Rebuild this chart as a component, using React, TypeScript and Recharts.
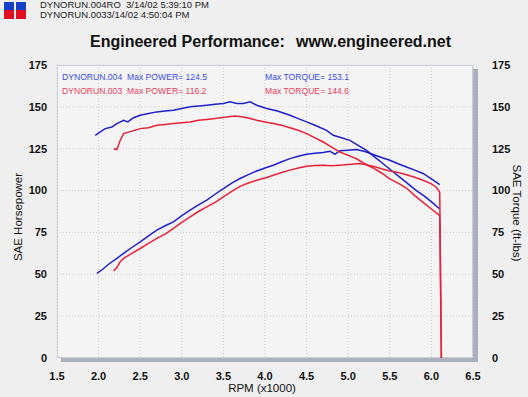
import React from 'react';
import { LineChart, Line, XAxis, YAxis, CartesianGrid } from 'recharts';

const rpmTicks = [1.5, 2.0, 2.5, 3.0, 3.5, 4.0, 4.5, 5.0, 5.5, 6.0, 6.5];
const valueTicks = [0, 25, 50, 75, 100, 125, 150, 175];

// [rpm x1000, value]
const run004Torque = [
  [1.96, 133], [2.02, 135], [2.08, 137], [2.16, 138], [2.22, 140], [2.3, 142], [2.35, 141],
  [2.42, 143.5], [2.5, 145], [2.6, 146], [2.7, 147], [2.8, 147.5], [2.9, 148], [3.0, 149],
  [3.1, 150], [3.2, 150.5], [3.3, 151], [3.4, 151.5], [3.5, 152], [3.58, 153], [3.66, 152],
  [3.74, 152], [3.82, 153], [3.9, 151], [4.02, 149], [4.15, 147.5], [4.3, 145], [4.4, 143],
  [4.5, 141], [4.6, 139], [4.74, 136], [4.82, 133], [4.92, 131.5], [5.02, 130], [5.12, 127],
  [5.22, 124], [5.32, 120], [5.42, 116], [5.52, 112], [5.62, 108], [5.72, 104], [5.82, 100],
  [5.92, 96.5], [6.02, 92.5], [6.1, 89],
];

const run004Power = [
  [1.98, 50.5], [2.05, 53], [2.12, 56], [2.22, 59.5], [2.3, 62.5], [2.4, 66], [2.5, 69.4],
  [2.6, 73], [2.7, 76.4], [2.8, 79], [2.9, 81.3], [3.0, 85], [3.1, 88.3], [3.2, 91.5],
  [3.3, 94.3], [3.4, 97.8], [3.5, 101.2], [3.6, 104.5], [3.7, 107.2], [3.8, 109.5],
  [3.9, 111.7], [4.0, 113.5], [4.1, 115.1], [4.2, 117.2], [4.3, 119.1], [4.4, 120.5],
  [4.5, 121.7], [4.6, 122.3], [4.7, 122.8], [4.78, 123.5], [4.84, 121.7], [4.9, 123.8],
  [5.0, 124.1], [5.1, 124.5], [5.2, 123.3], [5.3, 121.5], [5.4, 119.8], [5.5, 118.1],
  [5.6, 116], [5.7, 114.1], [5.8, 112.2], [5.9, 110.2], [6.0, 107], [6.1, 103.5],
];

const run003Torque = [
  [2.18, 125], [2.22, 124.5], [2.26, 130], [2.3, 134], [2.4, 135.5], [2.5, 137], [2.6, 137.5],
  [2.7, 139], [2.8, 139.5], [2.9, 140], [3.0, 140.5], [3.1, 141], [3.2, 142], [3.3, 142.5],
  [3.4, 143], [3.54, 144], [3.64, 144.6], [3.74, 144], [3.82, 143], [3.9, 142], [4.0, 141],
  [4.1, 140], [4.2, 139], [4.3, 137.5], [4.4, 136], [4.5, 134], [4.6, 131.5], [4.7, 129],
  [4.8, 126], [4.9, 123], [5.0, 121], [5.1, 119], [5.2, 116], [5.3, 113.5], [5.4, 110.5],
  [5.5, 107], [5.6, 104.5], [5.7, 101.5], [5.8, 97], [5.9, 93], [6.0, 89], [6.1, 85], [6.12, 0],
];

const run003Power = [
  [2.18, 52], [2.22, 54], [2.26, 57.5], [2.3, 59.5], [2.4, 62.5], [2.5, 65.4], [2.6, 68.5],
  [2.7, 71.4], [2.8, 74], [2.9, 77.4], [3.0, 81], [3.1, 84.3], [3.2, 87.5], [3.3, 90.3],
  [3.4, 93], [3.5, 96.2], [3.6, 99.5], [3.7, 102.5], [3.8, 104.5], [3.9, 106.2], [4.0, 107.5],
  [4.1, 109.2], [4.2, 110.8], [4.3, 112.2], [4.4, 113.5], [4.5, 114.5], [4.6, 115],
  [4.7, 115.1], [4.8, 114.8], [4.9, 115.1], [5.0, 115.5], [5.14, 116.2], [5.2, 115.5],
  [5.3, 114.5], [5.4, 113], [5.5, 111.7], [5.6, 110.8], [5.7, 109.5], [5.8, 108], [5.9, 106.2],
  [6.0, 104], [6.06, 102], [6.1, 99], [6.12, 0],
];

const toPoints = (pairs: number[][]) => pairs.map(([rpm, v]) => ({ rpm, v }));

const BLUE = '#1f1fcc';
const RED = '#e8203a';
const FONT = '"Liberation Sans", Arial, sans-serif';

const tickStyle = { fill: '#111', fontSize: 11, fontWeight: 700, fontFamily: FONT };

const abs = (s: React.CSSProperties): React.CSSProperties => ({ position: 'absolute', ...s });

const legendText = (left: number, top: number, color: string, text: string) => (
  <div style={abs({ left, top, fontSize: 8.6, lineHeight: '10px', color, whiteSpace: 'pre' })}>{text}</div>
);

const App: React.FC = () => {
  return (
    <div style={abs({ left: 0, top: 0, width: 528, height: 397, background: '#efefef', fontFamily: FONT, overflow: 'hidden' })}>
      {/* plot frame + drop shadow */}
      <div style={abs({ left: 61, top: 357, width: 417, height: 5, background: '#a9afbb' })} />
      <div style={abs({ left: 473, top: 69, width: 5, height: 293, background: '#a9afbb' })} />
      <div style={abs({ left: 57, top: 65, width: 416, height: 293, background: '#f4f4f4', boxSizing: 'border-box', border: '1px solid #c9d0dc' })} />

      <div style={abs({ left: 0, top: 0 })}>
        <LineChart width={528} height={397} margin={{ top: 65, right: 5, bottom: 14, left: 7 }}>
          <CartesianGrid yAxisId="hp" stroke="#cfcfcf" strokeDasharray="1 2" />
          <XAxis
            dataKey="rpm"
            type="number"
            domain={[1.5, 6.5]}
            ticks={rpmTicks}
            tickFormatter={(v: number) => v.toFixed(1)}
            tick={tickStyle}
            axisLine={false}
            tickLine={false}
            tickMargin={8}
            height={25}
            allowDataOverflow
          />
          <YAxis
            yAxisId="hp"
            domain={[0, 175]}
            ticks={valueTicks}
            tick={tickStyle}
            axisLine={false}
            tickLine={false}
            tickMargin={4}
            width={50}
          />
          <YAxis
            yAxisId="tq"
            orientation="right"
            domain={[0, 175]}
            ticks={valueTicks}
            tick={{ ...tickStyle, textAnchor: 'start' }}
            axisLine={false}
            tickLine={false}
            tickMargin={13}
            width={50}
          />
          <Line yAxisId="tq" data={toPoints(run004Torque)} dataKey="v" stroke={BLUE} strokeWidth={1.5} dot={false} isAnimationActive={false} />
          <Line yAxisId="hp" data={toPoints(run004Power)} dataKey="v" stroke={BLUE} strokeWidth={1.5} dot={false} isAnimationActive={false} />
          <Line yAxisId="tq" data={toPoints(run003Torque)} dataKey="v" stroke={RED} strokeWidth={1.5} dot={false} isAnimationActive={false} />
          <Line yAxisId="hp" data={toPoints(run003Power)} dataKey="v" stroke={RED} strokeWidth={1.5} dot={false} isAnimationActive={false} />
        </LineChart>
      </div>

      {/* header */}
      <div style={abs({ left: 4, top: 2, width: 10, height: 8, background: '#1540c8' })} />
      <div style={abs({ left: 16, top: 2, width: 10, height: 8, background: '#1540c8' })} />
      <div style={abs({ left: 4, top: 10, width: 10, height: 9, background: '#e01020' })} />
      <div style={abs({ left: 16, top: 10, width: 10, height: 9, background: '#e01020' })} />
      <div style={abs({ left: 40, top: 0, fontSize: 9.5, lineHeight: '9.5px', color: '#222', whiteSpace: 'pre' })}>
        {'DYNORUN.004RO  3/14/02 5:39:10 PM\nDYNORUN.0033/14/02 4:50:04 PM'}
      </div>

      <div style={abs({ left: 90, top: 33, fontSize: 16, fontWeight: 700, color: '#111', whiteSpace: 'pre' })}>Engineered Performance:</div>
      <div style={abs({ left: 296, top: 33, fontSize: 16, fontWeight: 700, color: '#111', whiteSpace: 'pre' })}>www.engineered.net</div>

      {/* legend */}
      {legendText(62, 72, '#3a4ee0', 'DYNORUN.004')}
      {legendText(127, 72, '#3a4ee0', 'Max POWER= 124.5')}
      {legendText(265, 72, '#3a4ee0', 'Max TORQUE= 153.1')}
      {legendText(62, 86, '#e8405a', 'DYNORUN.003')}
      {legendText(127, 86, '#e8405a', 'Max POWER= 116.2')}
      {legendText(265, 86, '#e8405a', 'Max TORQUE= 144.6')}

      {/* axis titles */}
      <div style={abs({ left: 262, top: 388, transform: 'translate(-50%, -50%)', fontSize: 11.5, color: '#111', whiteSpace: 'pre' })}>RPM (x1000)</div>
      <div style={abs({ left: 18, top: 217, transform: 'translate(-50%, -50%) rotate(-90deg)', fontSize: 11.5, color: '#111', whiteSpace: 'pre' })}>SAE Horsepower</div>
      <div style={abs({ left: 517, top: 213, transform: 'translate(-50%, -50%) rotate(90deg)', fontSize: 11.5, color: '#111', whiteSpace: 'pre' })}>SAE Torque (ft-lbs)</div>
    </div>
  );
};

export default App;
